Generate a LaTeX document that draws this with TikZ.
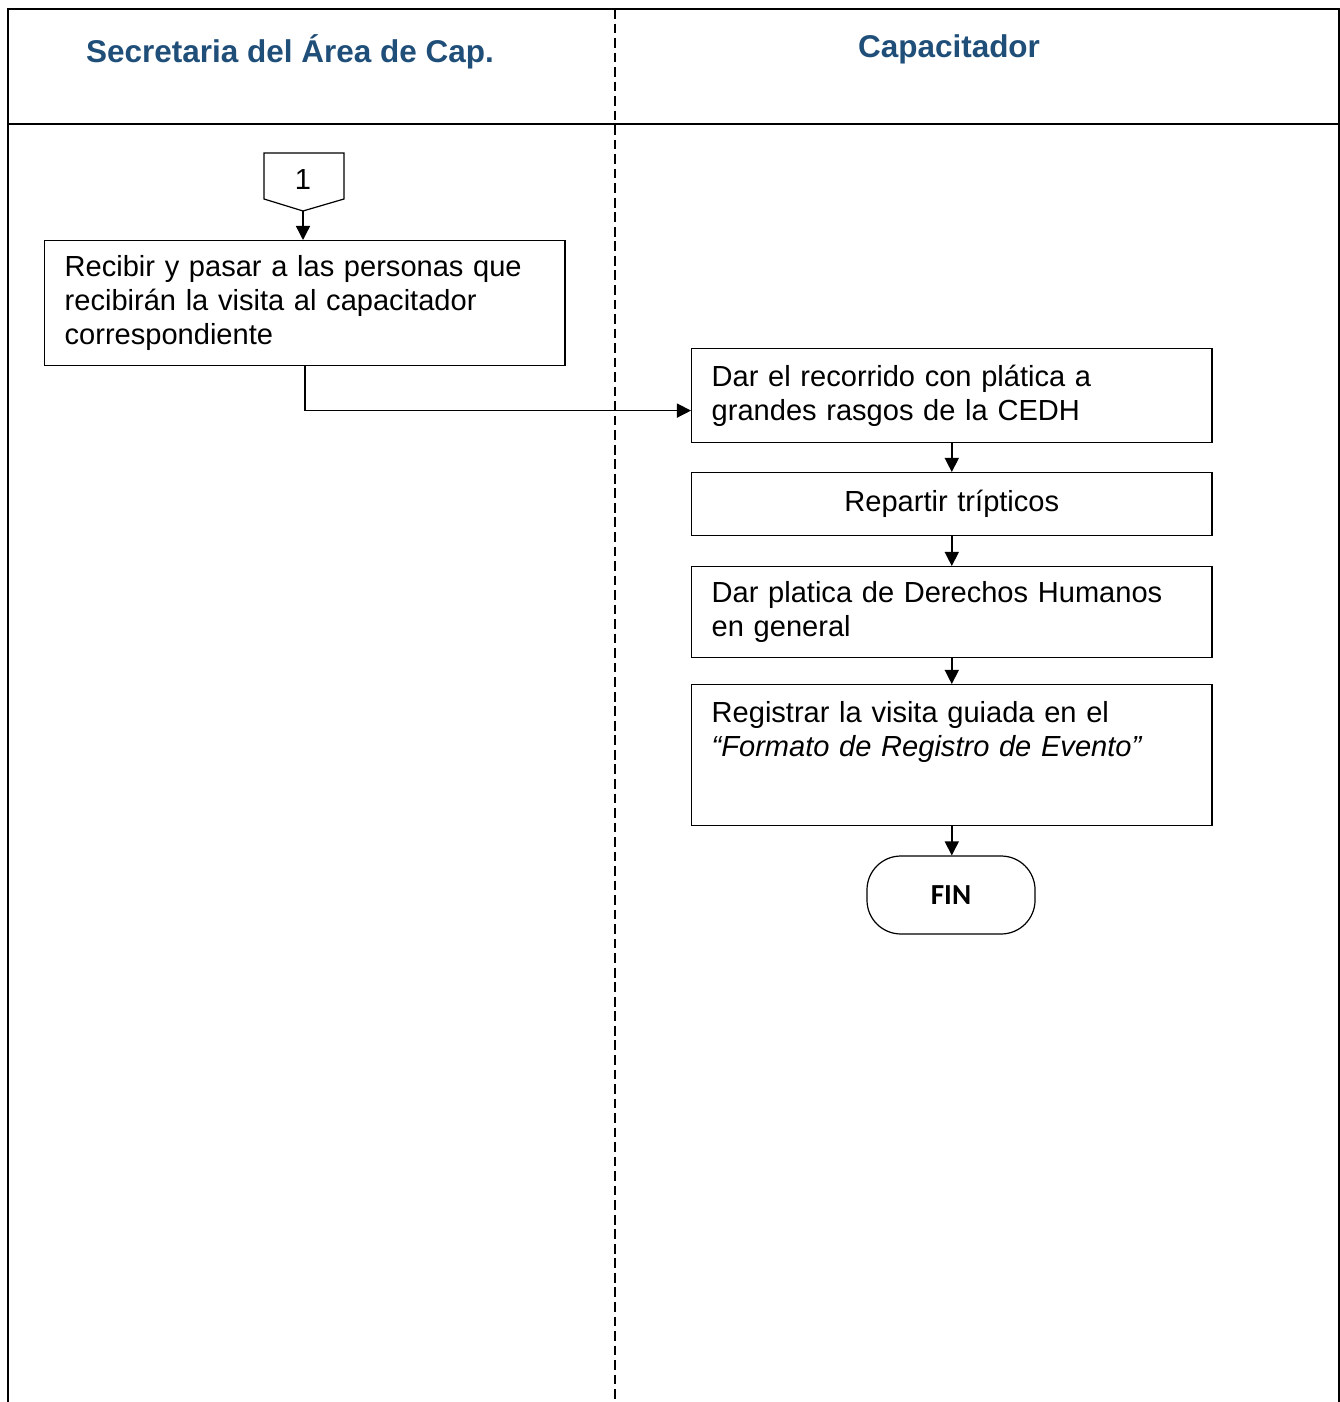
\documentclass[tikz,border=0pt]{standalone}
\usepackage{fontspec}
\setmainfont{Liberation Sans}
\newfontfamily\calibrifont{Carlito}
\usepackage{xcolor}
\definecolor{headBlue}{HTML}{1F4E79}
\usepackage{tikz}
\usetikzlibrary{calc, positioning}
\usetikzlibrary{arrows.meta}
\tikzset{
    lanehead/.style={font=\fontsize{13}{15}\selectfont\bfseries, text=headBlue},
    stepbox/.style={draw, line width=0.5pt, anchor=north west, inner xsep=8.3pt, inner ysep=0pt,
        minimum width=214.8pt, text width=198.3pt, align=left, font=\fontsize{12}{14}\selectfont},
    flowArrow/.style={line width=0.6pt, -{Triangle[length=5.8pt,width=5.8pt]}},
    endbox/.style={draw, line width=0.5pt, rounded corners=14pt, minimum width=69.4pt,
        minimum height=32.2pt, font=\calibrifont\fontsize{12}{14}\selectfont\bfseries}
}

\begin{document}
\begin{tikzpicture}[x=0.413pt, y=-0.413pt]
  \useasboundingbox (0,0) rectangle (1340,1402);

  % frame and lanes
  \draw[line width=0.6pt] (8,1402) -- (8,9) -- (1339,9) -- (1339,1402);
  \draw[line width=0.8pt] (8,124) -- (1339,124);
  \draw[line width=0.8pt, dash pattern=on 4pt off 2pt] (615,9) -- (615,1402);

  % lane titles
  \node[lanehead] (secTitle) at (290,52) {Secretaria del Área de Cap.};
  \node[lanehead] (capTitle) at (949,49) {Capacitador};

  % off-page connector
  \draw[line width=0.5pt] (264,153) -- (344,153) -- (344,199) -- (303,211) -- (264,199) -- cycle;
  \node[font=\fontsize{12}{14}\selectfont] (con1) at (303,180) {1};
  \coordinate (con1tip) at (303,211);

  % activities
  \node[stepbox, minimum height=51.6pt] (recibir) at (44,240)
    {Recibir y pasar a las personas que\\ recibirán la visita al capacitador\\ correspondiente};
  \node[stepbox, minimum height=38.8pt] (recorrido) at (691,348)
    {Dar el recorrido con plática a\\ grandes rasgos de la CEDH};
  \node[stepbox, minimum height=26pt, align=center] (tripticos) at (691,472)
    {Repartir trípticos};
  \node[stepbox, minimum height=37.6pt] (platica) at (691,566)
    {Dar platica de Derechos Humanos\\ en general};
  \node[stepbox, minimum height=58.2pt] (registro) at (691,684)
    {Registrar la visita guiada en el\\ \textit{“Formato de Registro de Evento”}\\[7.4pt] \mbox{}};
  \node[endbox] (fin) at (951,895) {FIN};

  % flow
  \draw[flowArrow] (con1tip) -- (con1tip |- recibir.north);
  \draw[flowArrow] (recibir.south) |- ([yshift=-6.2pt]recorrido.west);
  \draw[flowArrow] (recorrido.south) -- (tripticos.north);
  \draw[flowArrow] (tripticos.south) -- (platica.north);
  \draw[flowArrow] (platica.south) -- (registro.north);
  \draw[flowArrow] (registro.south) -- (registro.south |- fin.north);
\end{tikzpicture}
\end{document}
